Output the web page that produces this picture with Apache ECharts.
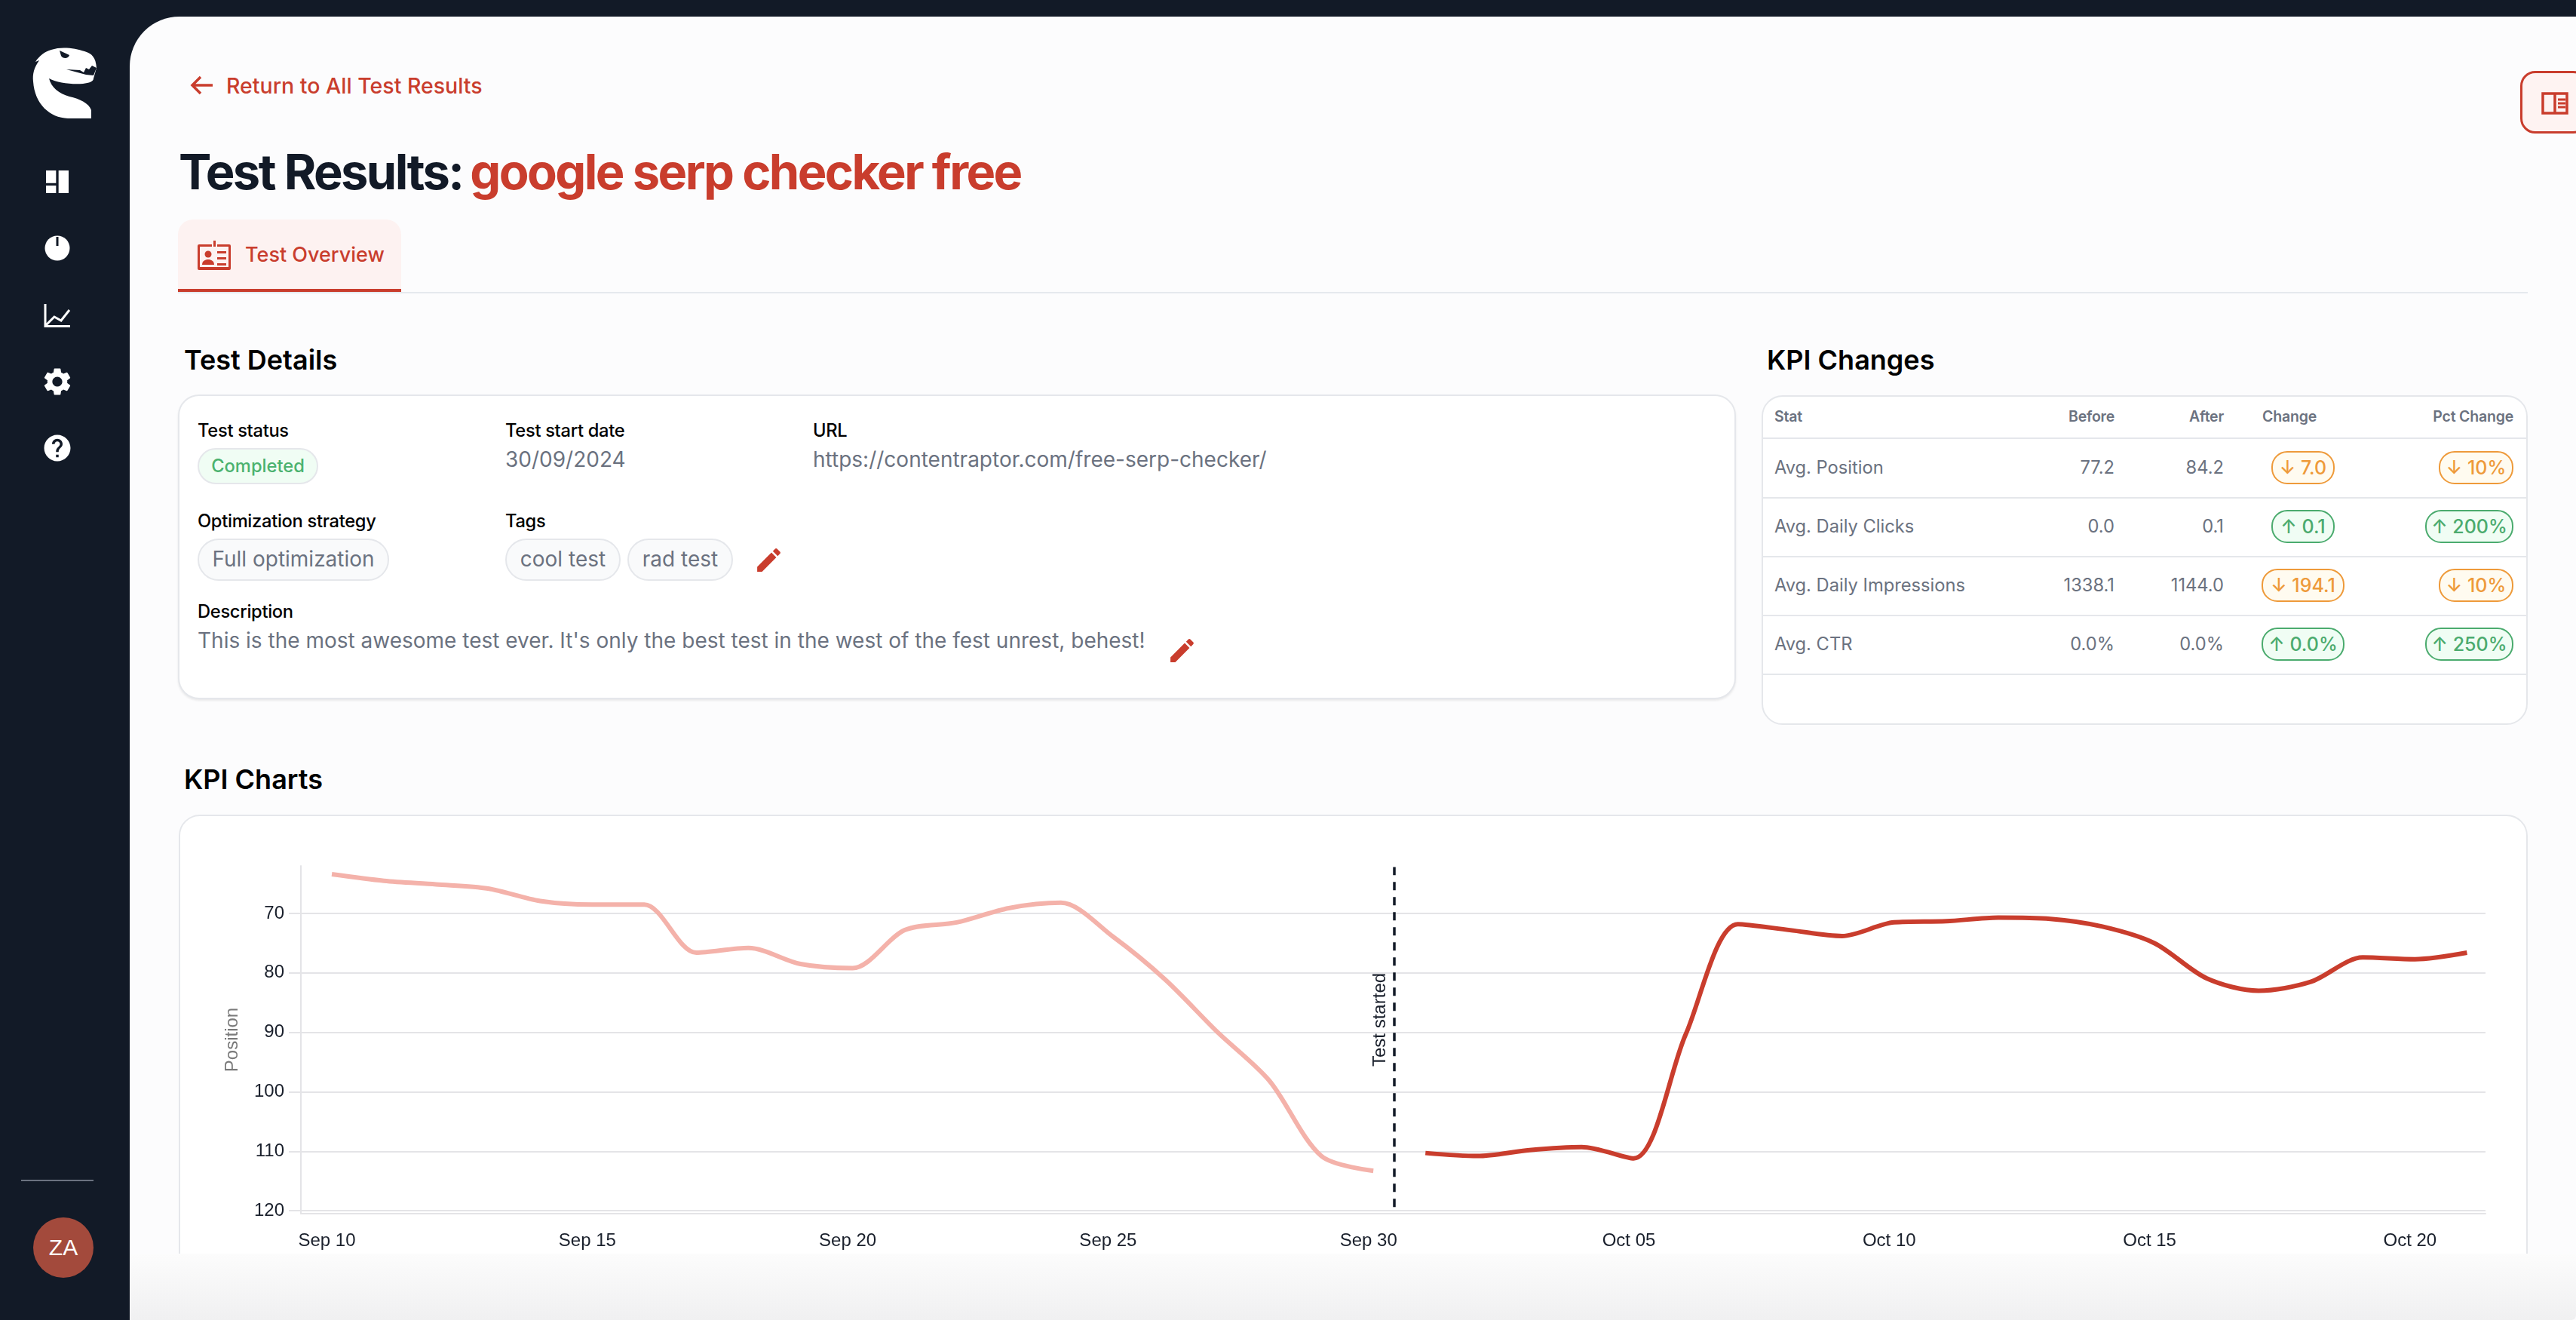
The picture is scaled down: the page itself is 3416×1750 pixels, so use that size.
<!DOCTYPE html>
<html>
<head>
<meta charset="utf-8">
<title>Test Results</title>
<script src="https://cdn.jsdelivr.net/npm/echarts@6/dist/echarts.min.js"></script>
<style>
  html, body { margin: 0; width: 3416px; height: 1750px; overflow: hidden; background: #121a27; font-family: Inter, sans-serif; }
  .abs { position: absolute; }
  /* text anchored by its vertical centre */
  .t { position: absolute; transform: translateY(-50%); white-space: nowrap; line-height: 1.2; }
  .label { font-size: 23.7px; font-weight: 500; color: #000; letter-spacing: -0.3px; }
  .value { font-size: 28px; color: #6b7280; }
  .h2 { font-size: 36px; font-weight: 600; color: #000; }
  .red { color: #c93d2d; }
  .pill { position: absolute; box-sizing: border-box; border: 2px solid #e5e7eb; border-radius: 28px; background: #f9fafb; color: #6b7280;
          font-size: 28px; display: flex; align-items: center; justify-content: center; white-space: nowrap; padding-bottom: 2px; }
  .card { position: absolute; box-sizing: border-box; border: 2px solid #e5e7eb; background: #fff; border-radius: 28px; }
  .badge { position: absolute; box-sizing: border-box; height: 44px; border-radius: 21px; border: 2px solid; font-size: 25px; font-weight: 500;
           display: flex; align-items: center; justify-content: center; white-space: nowrap; transform: translateY(-50%); }
  .up { color: #4bab6e; border-color: #4bab6e; background: #f0fdf4; }
  .down { color: #ee9a3a; border-color: #ee9a3a; background: #fffbf0; }
  .th { font-size: 19.5px; font-weight: 600; color: #6b7280; letter-spacing: -0.2px; }
  .td { font-size: 23.7px; color: #6b7280; }
  .rule { position: absolute; left: 2336px; width: 1014px; height: 2px; background: #e5e7eb; }
  svg { position: absolute; }
</style>
</head>
<body>
<!-- sidebar -->
<svg style="left:0;top:0" width="172" height="170" viewBox="0 0 172 170">
  <path fill="#fff" d="M44 108 C43 98 45 90 52 80 L47 82 C52 74 60 68 68 66 C82 61 100 64 112 68 C122 71 127 76 128 90 L124 104 C124 108 118 110 110 111 C94 112 76 110 65 104 C68 116 78 124 92 128 C106 131 118 137 121 146 L121 157 L90 157 C66 156 46 138 44 108 Z"/>
  <path fill="#121a27" d="M79 67 L92 73 C91 78 83 78 81 74 Z M128 90 L122 87 L118 92 L114 90 L111 96 L106 93 L88 92 L114 99 L124 100 Z"/>
</svg>
<svg style="left:56px;top:221px" width="40" height="40" viewBox="0 0 24 24"><path fill="#fff" d="M3 13h8V3H3v10zm0 8h8v-6H3v6zm10 0h8V11h-8v10zm0-16v6h8V3h-8z"/></svg>
<svg style="left:56px;top:309px" width="40" height="40" viewBox="0 0 40 40"><circle cx="20" cy="20" r="16.5" fill="#fff"/><rect x="18.5" y="5" width="3" height="12" fill="#121a27"/></svg>
<svg style="left:56px;top:398px" width="40" height="40" viewBox="0 0 40 40"><path fill="none" stroke="#fff" stroke-width="3" d="M4 5 V34.5 H37 M5 33 L16 22 L25 27 L36 13"/></svg>
<svg style="left:54px;top:484px" width="44" height="44" viewBox="0 0 24 24"><path fill="#fff" d="M19.14 12.94c.04-.3.06-.61.06-.94 0-.32-.02-.64-.07-.94l2.03-1.58a.49.49 0 00.12-.61l-1.92-3.32a.488.488 0 00-.59-.22l-2.39.96c-.5-.38-1.03-.7-1.62-.94l-.36-2.54a.484.484 0 00-.48-.41h-3.84c-.24 0-.43.17-.47.41l-.36 2.54c-.59.24-1.13.57-1.62.94l-2.39-.96c-.22-.08-.47 0-.59.22L2.74 8.87c-.12.21-.08.47.12.61l2.03 1.58c-.05.3-.09.63-.09.94s.02.64.07.94l-2.03 1.58a.49.49 0 00-.12.61l1.92 3.32c.12.22.37.29.59.22l2.39-.96c.5.38 1.03.7 1.62.94l.36 2.54c.05.24.24.41.48.41h3.84c.24 0 .44-.17.47-.41l.36-2.54c.59-.24 1.13-.56 1.62-.94l2.39.96c.22.08.47 0 .59-.22l1.92-3.32c.12-.22.07-.47-.12-.61l-2.01-1.58zM12 15.6c-1.98 0-3.6-1.62-3.6-3.6s1.62-3.6 3.6-3.6 3.6 1.62 3.6 3.6-1.62 3.6-3.6 3.6z"/></svg>
<svg style="left:55px;top:573px" width="42" height="42" viewBox="0 0 24 24"><path fill="#fff" d="M12 2C6.48 2 2 6.48 2 12s4.48 10 10 10 10-4.48 10-10S17.52 2 12 2zm1 17h-2v-2h2v2zm2.07-7.75l-.9.92C13.45 12.9 13 13.5 13 15h-2v-.5c0-1.1.45-2.1 1.17-2.83l1.24-1.26c.37-.36.59-.86.59-1.41 0-1.1-.9-2-2-2s-2 .9-2 2H8c0-2.21 1.79-4 4-4s4 1.79 4 4c0 .88-.36 1.68-.93 2.25z"/></svg>
<div class="abs" style="left:28px;top:1564px;width:96px;height:2px;background:#6b7280"></div>
<div class="abs" style="left:44px;top:1614px;width:80px;height:80px;border-radius:50%;background:#a34a3c;color:#fff;font:30px 'Liberation Sans';display:flex;align-items:center;justify-content:center">ZA</div>

<!-- main panel -->
<div class="abs" style="left:172px;top:22px;width:3244px;height:1728px;background:#fcfcfd;border-radius:66px 0 0 0"></div>

<svg style="left:252px;top:98px" width="32" height="30" viewBox="0 0 32 30"><path fill="none" stroke="#c93d2d" stroke-width="3.5" d="M30 15 H4 M14 4 L3 15 L14 26"/></svg>
<div class="t red" style="left:300px;top:114px;font-size:28.5px;font-weight:500">Return to All Test Results</div>
<div class="t" style="left:237px;top:228px;font-size:65px;font-weight:700;letter-spacing:-2.6px;color:#121a27">Test Results:<span class="red" style="margin-left:10px">google serp checker free</span></div>

<div class="abs" style="left:236px;top:291px;width:296px;height:92px;background:#fdf2f1;border-radius:20px 20px 0 0"></div>
<div class="abs" style="left:236px;top:387px;width:3116px;height:2px;background:#e5e9ee"></div>
<div class="abs" style="left:236px;top:383px;width:296px;height:4px;background:#c93d2d"></div>
<svg style="left:260px;top:318px" width="48" height="42" viewBox="0 0 48 42"><path fill="#c93d2d" d="M23 1h3v8h-3z M2 6h19v3H5v27h38V9H28V6h16a2 2 0 0 1 2 2v30a2 2 0 0 1-2 2H4a2 2 0 0 1-2-2V8a2 2 0 0 1 2-2z M28 15h12v3H28z M28 23h12v3H28z M28 31h12v3H28z"/><circle cx="16" cy="19" r="4.5" fill="#c93d2d"/><path fill="#c93d2d" d="M8 33c0-5 4-7 8-7s8 2 8 7z"/></svg>
<div class="t red" style="left:325px;top:338px;font-size:27px;font-weight:500">Test Overview</div>

<!-- test details -->
<div class="t h2" style="left:244px;top:478px">Test Details</div>
<div class="card" style="left:236px;top:523px;width:2066px;height:404px;box-shadow:0 2px 3px rgba(0,0,0,.08)"></div>
<div class="t label" style="left:262px;top:571px">Test status</div>
<div class="pill" style="left:262px;top:594px;width:160px;height:48px;background:#f0fdf4;color:#4bb26f;font-size:23.7px;font-weight:500">Completed</div>
<div class="t label" style="left:670px;top:571px">Test start date</div>
<div class="t value" style="left:670px;top:610px">30/09/2024</div>
<div class="t label" style="left:1078px;top:571px">URL</div>
<div class="t value" style="left:1078px;top:610px">https://contentraptor.com/free-serp-checker/</div>
<div class="t label" style="left:262px;top:691px">Optimization strategy</div>
<div class="pill" style="left:262px;top:714px;width:254px;height:56px">Full optimization</div>
<div class="t label" style="left:670px;top:691px">Tags</div>
<div class="pill" style="left:670px;top:714px;width:153px;height:56px">cool test</div>
<div class="pill" style="left:832px;top:714px;width:140px;height:56px">rad test</div>
<svg style="left:999px;top:722px" width="41" height="41" viewBox="0 0 24 24"><path fill="#c93d2d" d="M3 17.25V21h3.75L17.81 9.94l-3.75-3.75L3 17.25zM20.71 7.04c.39-.39.39-1.02 0-1.41l-2.34-2.34c-.39-.39-1.02-.39-1.41 0l-1.83 1.83 3.75 3.75 1.83-1.83z"/></svg>
<div class="t label" style="left:262px;top:811px">Description</div>
<div class="t value" style="left:262px;top:850px">This is the most awesome test ever. It's only the best test in the west of the fest unrest, behest!</div>
<svg style="left:1547px;top:842px" width="41" height="41" viewBox="0 0 24 24"><path fill="#c93d2d" d="M3 17.25V21h3.75L17.81 9.94l-3.75-3.75L3 17.25zM20.71 7.04c.39-.39.39-1.02 0-1.41l-2.34-2.34c-.39-.39-1.02-.39-1.41 0l-1.83 1.83 3.75 3.75 1.83-1.83z"/></svg>

<!-- kpi changes, filled from the arrays below -->
<div class="t h2" style="left:2343px;top:478px">KPI Changes</div>
<div class="card" style="left:2336px;top:524px;width:1016px;height:437px;background:#fff"></div>
<div id="kpi"></div>

<div class="abs" style="left:3342px;top:94px;width:90px;height:83px;box-sizing:border-box;border:3px solid #c93d2d;border-radius:20px;background:#fef3f2"></div>
<svg style="left:3369px;top:122px" width="38" height="30" viewBox="0 0 38 30"><path fill="none" stroke="#c93d2d" stroke-width="3.5" d="M3 2 H35 V28 H3 Z M19 2 V28"/><path fill="none" stroke="#c93d2d" stroke-width="3" d="M23 10 H33 M23 15 H33 M23 20 H33"/></svg>

<!-- kpi charts -->
<div class="t h2" style="left:244px;top:1034px">KPI Charts</div>
<div class="card" style="left:237px;top:1080px;width:3115px;height:700px"></div>
<div id="app" class="abs" style="left:237px;top:1080px;width:3113px;height:582px"></div>
<div class="abs" style="left:172px;top:1662px;width:3244px;height:88px;background:linear-gradient(#fcfcfc,#f0f0f1);border-radius:0 0 6px 0"></div>

<script>
// KPI table
const kpiStats = ["Avg. Position", "Avg. Daily Clicks", "Avg. Daily Impressions", "Avg. CTR"];
const kpiBefore = ["77.2", "0.0", "1338.1", "0.0%"];
const kpiAfter = ["84.2", "0.1", "1144.0", "0.0%"];
const kpiChange = ["7.0", "0.1", "194.1", "0.0%"];
const kpiPctChange = ["10%", "200%", "10%", "250%"];
const kpiIsUp = [false, true, false, true];

// position chart: one reading a day, x is days since Sep 10
const positionBefore = [63.4, 64.5, 65.1, 65.8, 67.9, 68.5, 68.5, 76.6, 75.8, 78.5, 79.2, 72.8, 71.5, 69.1, 68.2, 73.9, 81.1, 89.9, 98.1, 110.8, 113.3];
const positionAfter = [110.3, 110.8, 109.8, 109.3, 111.2, 90.3, 71.8, 72.8, 73.8, 71.5, 71.3, 70.7, 70.9, 72.2, 75.0, 80.9, 83.0, 81.5, 77.4, 77.7, 76.6];
const xTickLabels = ["Sep 10", "Sep 15", "Sep 20", "Sep 25", "Sep 30", "Oct 05", "Oct 10", "Oct 15", "Oct 20"];
const xTicks = [0, 5, 10, 15, 20, 25, 30, 35, 40];
const yTicks = [70, 80, 90, 100, 110, 120];
const testStartDay = 20.5;
// the readings sit a couple of hours after midnight on the axis
const readingOffset = 0.094;

function toPoints(values, firstDay) {
  return values.map((v, i) => [firstDay + i + readingOffset, v]);
}

/**
 * 生成表格
 */
function renderKpiTable() {
  const rowY = [620, 698, 776, 854];
  const ruleY = [580, 659, 737, 815, 893];
  let html = "";
  html += `<div class="t th" style="left:2353px;top:553px">Stat</div>`;
  html += `<div class="t th" style="right:612px;top:553px">Before</div>`;
  html += `<div class="t th" style="right:467px;top:553px">After</div>`;
  html += `<div class="t th" style="left:3000px;top:553px">Change</div>`;
  html += `<div class="t th" style="right:83px;top:553px">Pct Change</div>`;
  ruleY.forEach(y => {
    html += `<div class="rule" style="top:${y}px"></div>`;
  });
  kpiStats.forEach((stat, i) => {
    const cls = kpiIsUp[i] ? "up" : "down";
    const arrow = kpiIsUp[i] ? "↑" : "↓";
    const top = rowY[i];
    html += `<div class="t td" style="left:2353px;top:${top}px">${stat}</div>`;
    html += `<div class="t td" style="right:612px;top:${top}px">${kpiBefore[i]}</div>`;
    html += `<div class="t td" style="right:467px;top:${top}px">${kpiAfter[i]}</div>`;
    const w = kpiChange[i].length > 3 ? 110 : 84;
    html += `<div class="badge ${cls}" style="left:${3054 - w / 2}px;width:${w}px;top:${top}px">${arrow} ${kpiChange[i]}</div>`;
    const pw = kpiPctChange[i].length > 3 ? 117 : 99;
    html += `<div class="badge ${cls}" style="right:83px;width:${pw}px;top:${top}px">${arrow} ${kpiPctChange[i]}</div>`;
  });
  document.getElementById("kpi").innerHTML = html;
}

/**
 * 生成图表
 */
function renderChart() {
  const myChart = echarts.init(document.getElementById("app"));
  const axisFont = { color: "#1a202c", fontSize: 24, fontFamily: "Liberation Sans" };
  const option = {
    animation: false,
    backgroundColor: "transparent",
    grid: { left: 162, right: 54, top: 68, height: 461 },
    xAxis: {
      type: "value",
      min: -0.5,
      max: 41.45,
      axisLine: { show: true, onZero: false, lineStyle: { color: "#e4e4e7", width: 2 } },
      axisTick: { show: false, customValues: xTicks },
      splitLine: { show: false },
      axisLabel: {
        ...axisFont,
        margin: 24,
        customValues: xTicks,
        formatter: value => xTickLabels[xTicks.indexOf(value)]
      }
    },
    yAxis: {
      type: "value",
      inverse: true,
      min: 62,
      max: 120.5,
      name: "Position",
      nameLocation: "middle",
      nameGap: 79,
      nameTextStyle: { color: "#7a7a7a", fontSize: 24, fontFamily: "Liberation Sans" },
      axisLine: { show: true, onZero: false, lineStyle: { color: "#e4e4e7", width: 2 } },
      axisTick: { show: true, length: 16, lineStyle: { color: "#e4e4e7", width: 2 }, customValues: yTicks },
      splitLine: { show: true, lineStyle: { color: "#e4e4e7", width: 2 } },
      axisLabel: { ...axisFont, margin: 22, customValues: yTicks }
    },
    series: [
      {
        name: "Before",
        type: "line",
        smooth: 0.3,
        symbol: "none",
        data: toPoints(positionBefore, 0),
        lineStyle: { color: "#f4b2aa", width: 6 },
        markLine: {
          silent: true,
          symbol: "none",
          data: [[{ coord: [testStartDay, 119.4] }, { coord: [testStartDay, 62.2] }]],
          lineStyle: { color: "#121a27", width: 3.5, type: [11, 9] },
          label: {
            show: true,
            formatter: "Test started",
            position: "insideMiddleTop",
            color: "#1a202c",
            fontSize: 24,
            fontFamily: "Liberation Sans",
            distance: 6,
            offset: [17, -7]
          }
        }
      },
      {
        name: "After",
        type: "line",
        smooth: 0.3,
        symbol: "none",
        data: toPoints(positionAfter, 21),
        lineStyle: { color: "#c93d2d", width: 6 }
      }
    ]
  };
  myChart.setOption(option);
}

renderKpiTable();
renderChart();
</script>
</body>
</html>
